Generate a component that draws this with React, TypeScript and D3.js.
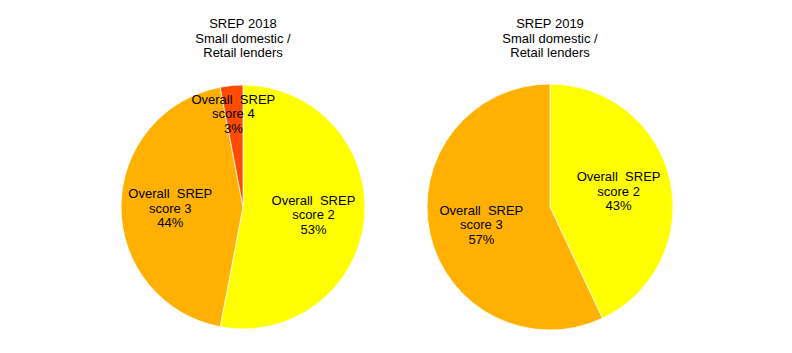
import React from "react";
import * as d3 from "d3";

const pieTitles2018 = ["SREP 2018", "Small domestic /", "Retail lenders"];
const pieTitles2019 = ["SREP 2019", "Small domestic /", "Retail lenders"];
const categories2018 = ["Overall SREP score 2", "Overall SREP score 3", "Overall SREP score 4"];
const values2018 = [53, 44, 3];
const categories2019 = ["Overall SREP score 2", "Overall SREP score 3"];
const values2019 = [43, 57];

const colorByScore: Record<string, string> = {
  "Overall SREP score 2": "#FFFF00",
  "Overall SREP score 3": "#FFB000",
  "Overall SREP score 4": "#FF4B00",
};

const W = 792;
const H = 353;
const FONT = "Liberation Sans, Arial, sans-serif";

type PieProps = {
  cx: number;
  cy: number;
  r: number;
  titles: string[];
  cats: string[];
  vals: number[];
  nudges: [number, number][];
};

function Pie({ cx, cy, r, titles, cats, vals, nudges }: PieProps) {
  const data = cats.map((c, i) => ({ c, v: vals[i] }));
  const pie = d3
    .pie<{ c: string; v: number }>()
    .value((d) => d.v)
    .sort(null);
  const arcs = pie(data);
  const arc = d3.arc<d3.PieArcDatum<{ c: string; v: number }>>().innerRadius(0).outerRadius(r);
  const labelArc = d3
    .arc<d3.PieArcDatum<{ c: string; v: number }>>()
    .innerRadius(r * 0.58)
    .outerRadius(r * 0.58);
  return (
    <g>
      {titles.map((t, i) => (
        <text key={i} x={cx} y={28 + i * 14.5} textAnchor="middle" fontFamily={FONT} fontSize={13} fill="#000">
          {t}
        </text>
      ))}
      <g transform={`translate(${cx},${cy})`}>
        {arcs.map((a, i) => (
          <path key={i} d={arc(a) || ""} fill={colorByScore[a.data.c]} stroke="#ffffff" strokeWidth={0.75} />
        ))}
        {arcs.map((a, i) => {
          const [x, y] = labelArc.centroid(a);
          const [dx, dy] = nudges[i];
          const parts = a.data.c.split(" ");
          const lines = [parts.slice(0, 2).join("\u00a0 "), parts.slice(2).join(" "), `${a.data.v}%`];
          return (
            <text key={"l" + i} textAnchor="middle" fontFamily={FONT} fontSize={13} fill="#000">
              {lines.map((ln, j) => (
                <tspan key={j} x={x + dx} y={y + dy + (j - 1) * 14.5 + 4.5}>
                  {ln}
                </tspan>
              ))}
            </text>
          );
        })}
      </g>
    </g>
  );
}

export default function App() {
  return (
    <svg
      width={W}
      height={H}
      viewBox={`0 0 ${W} ${H}`}
      style={{ position: "absolute", left: 0, top: 0, background: "#fff" }}
    >
      <rect width={W} height={H} fill="#fff" />
      <Pie
        cx={243}
        cy={207}
        r={122}
        titles={pieTitles2018}
        cats={categories2018}
        vals={values2018}
        nudges={[
          [0, 1],
          [-2, 1],
          [-3, -23],
        ]}
      />
      <Pie
        cx={550}
        cy={207}
        r={123}
        titles={pieTitles2019}
        cats={categories2019}
        vals={values2019}
        nudges={[
          [-1, 0],
          [1, 2],
        ]}
      />
    </svg>
  );
}
